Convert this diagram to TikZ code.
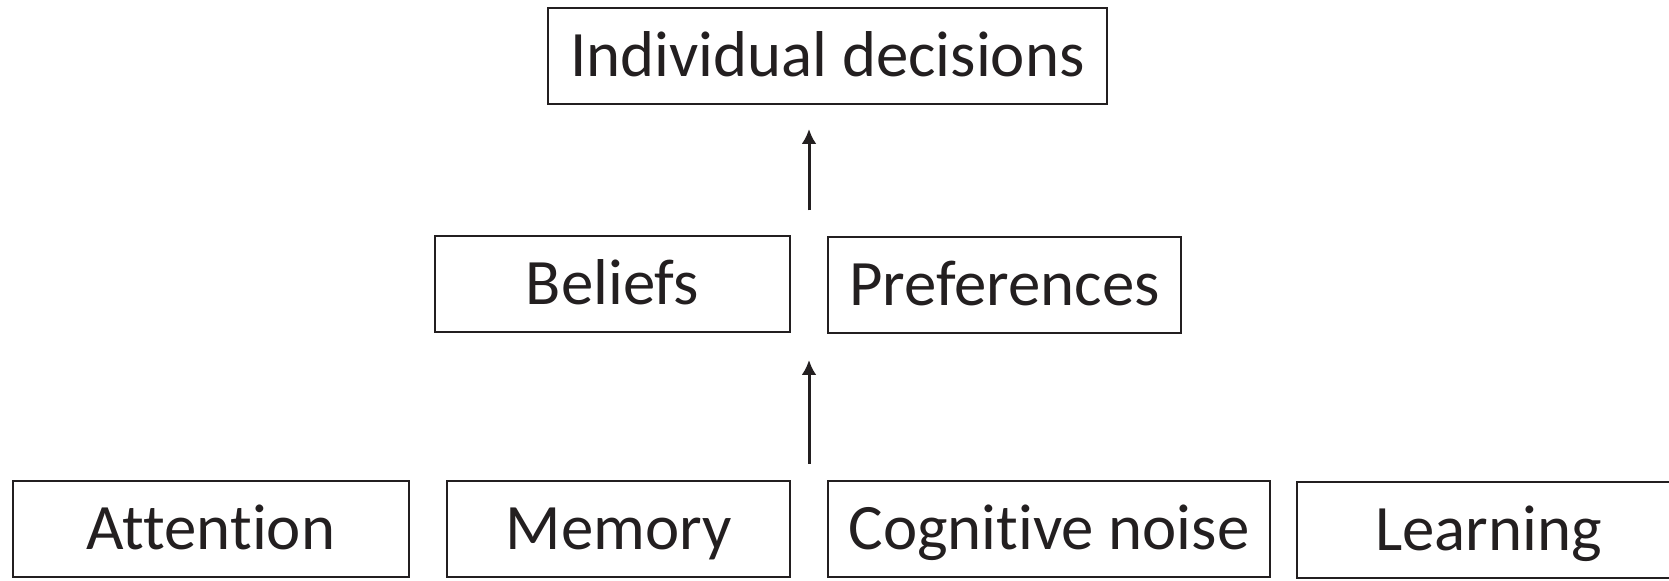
\documentclass[tikz,border=0pt]{standalone}
\usepackage{fontspec}
\setmainfont{Carlito}[Ligatures=NoCommon]
\usetikzlibrary{arrows.meta,calc}

\definecolor{inkgray}{HTML}{231F20}

\tikzset{
	factor/.style={draw=inkgray, line width=1pt, text=inkgray, inner sep=0pt,
		minimum height=48pt, text height=25pt, text depth=4pt,
		font=\fontsize{32.4}{40}\selectfont},
	upflow/.style={draw=inkgray, line width=1.5pt, -{Latex[length=7.5pt,width=7.5pt]}}
}

\begin{document}
\begin{tikzpicture}[x=0.5pt,y=-0.5pt]
			\useasboundingbox (0,0) rectangle (1669,581);
			
			% top
			\node[factor, minimum width=279.5pt] (decisions) at (827.5,56) {Individual decisions};
			
			% middle
			\node[factor, minimum width=177.5pt] (beliefs) at (612.5,284) {Beliefs};
			\node[factor, minimum width=176.5pt] (prefs) at (1004.5,285) {Preferences};
			
			% bottom
			\node[factor, minimum width=198pt] (attention) at (211,529) {Attention};
			\node[factor, minimum width=171.5pt] (memory) at (618.5,529) {Memory};
			\node[factor, minimum width=221pt] (noise) at (1049,529) {Cognitive noise};
			\node[factor, minimum width=191.5pt] (learning) at (1488.5,530) {Learning};
			
			% arrows
			\coordinate (midtop) at ($(beliefs.north east)!0.5!(prefs.north west)$);
			\coordinate (midlow) at ($(memory.north east)!0.5!(noise.north west)$);
			\draw[upflow, shorten <=12.5pt, shorten >=12pt] (midtop) -- (decisions.south -| midtop);
			\draw[upflow, shorten <=8pt, shorten >=13.5pt] (midlow) -- (beliefs.south -| midlow);
		\end{tikzpicture}
\end{document}
